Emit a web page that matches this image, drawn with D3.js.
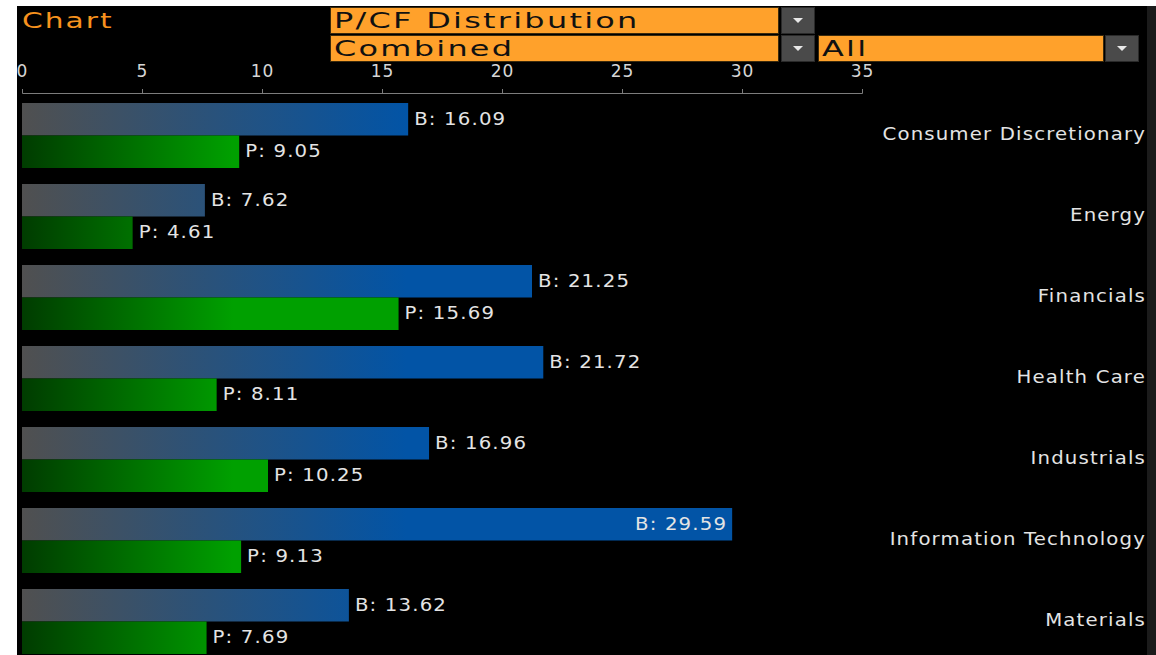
<!DOCTYPE html>
<html>
<head>
<meta charset="utf-8">
<script src="https://cdn.jsdelivr.net/npm/d3@7"></script>
<style>
  body { margin: 0; background: #fff; }
  text { font-family: "DejaVu Sans", Verdana, sans-serif; }
</style>
</head>
<body>
<svg id="chart" width="1156" height="655"></svg>
<script>
// chart values
var categories = ["Consumer Discretionary", "Energy", "Financials", "Health Care",
  "Industrials", "Information Technology", "Materials"];
var bench_values = [16.09, 7.62, 21.25, 21.72, 16.96, 29.59, 13.62];
var port_values = [9.05, 4.61, 15.69, 8.11, 10.25, 9.13, 7.69];
var series_keys = ["B", "P"];
var tick_values = [0, 5, 10, 15, 20, 25, 30, 35];
var menu_labels = ["P/CF Distribution", "Combined", "All"];

var width = 1156, height = 655;
var svg = d3.select("#chart");

var x = d3.scaleLinear().domain([0, 35]).range([22, 862]);
var y = d3.scaleBand().domain(categories).range([103, 654]).paddingInner(0.1975).paddingOuter(0).align(0);
var ys = d3.scaleBand().domain(series_keys).range([0, y.bandwidth()]);

var rows = categories.map(function(c, i) {
  return {cat: c, B: bench_values[i], P: port_values[i]};
});

// the terminal font is wider than DejaVu, so text gets stretched sideways
function place(px, py, sx) {
  return "translate(" + px + "," + py + ") scale(" + sx + ",1)";
}

// gradients run in page space, so short bars stay greyer / darker
var defs = svg.append("defs");
function gradient(id, from, to, c0, c1) {
  var g = defs.append("linearGradient").attr("id", id)
    .attr("gradientUnits", "userSpaceOnUse")
    .attr("x1", x(from)).attr("x2", x(to)).attr("y1", 0).attr("y2", 0);
  g.append("stop").attr("offset", 0).attr("stop-color", c0);
  g.append("stop").attr("offset", 1).attr("stop-color", c1);
}
gradient("grad_B", 0, 16, "#505050", "#0254a6");
gradient("grad_P", 0, 8.8, "#003c00", "#00a000");

defs.append("clipPath").attr("id", "panel_clip")
  .append("rect").attr("x", 17).attr("y", 6).attr("width", 1130).attr("height", 649);

// panel
svg.append("rect").attr("x", 17).attr("y", 6).attr("width", 1130).attr("height", 649).attr("fill", "#000");
svg.append("rect").attr("x", 1147).attr("y", 6).attr("width", 9).attr("height", 649).attr("fill", "#1b1b1b");

var root = svg.append("g").attr("clip-path", "url(#panel_clip)");

// title
root.append("text").attr("transform", place(22, 28, 1.35))
  .attr("fill", "#f7921e").style("font-size", "22px").style("letter-spacing", "1.5px")
  .text("Chart");

// drop-down menus
var menus = [
  {label: menu_labels[0], x: 330, y: 7, w: 448, bx: 781},
  {label: menu_labels[1], x: 330, y: 35, w: 448, bx: 781},
  {label: menu_labels[2], x: 818, y: 35, w: 285, bx: 1105}
];
var menu = root.selectAll(".menu").data(menus).join("g").attr("class", "menu");
menu.append("rect")
  .attr("x", function(d) { return d.x + 0.5; }).attr("y", function(d) { return d.y + 0.5; })
  .attr("width", function(d) { return d.w; }).attr("height", 26)
  .attr("fill", "#ffa12b").attr("stroke", "#3b2a0c");
menu.append("text")
  .attr("transform", function(d) { return place(d.x + 4, d.y + 21, 1.52); })
  .attr("fill", "#111").style("font-size", "21px").style("letter-spacing", "1.5px")
  .text(function(d) { return d.label; });
menu.append("rect")
  .attr("x", function(d) { return d.bx + 0.5; }).attr("y", function(d) { return d.y + 0.5; })
  .attr("width", 33).attr("height", 26)
  .attr("fill", "#4a4a4a").attr("stroke", "#2a2a2a");
menu.append("path")
  .attr("d", function(d) {
    var cx = d.bx + 17, cy = d.y + 13;
    return "M" + (cx - 5) + "," + (cy - 2) + "L" + (cx + 5) + "," + (cy - 2) + "L" + cx + "," + (cy + 3) + "Z";
  })
  .attr("fill", "#e8e8e8");

// axis
var axis = root.append("g").attr("transform", "translate(0,93)")
  .call(d3.axisTop(x).tickValues(tick_values).tickSize(4).tickSizeOuter(4).tickPadding(12));
axis.select(".domain").attr("stroke", "#7c7c7c");
axis.selectAll(".tick line").attr("stroke", "#7c7c7c");
axis.selectAll(".tick text").attr("fill", "#d6d6d6")
  .style("font-size", "17px").style("font-family", "\"DejaVu Sans\", sans-serif")
  .style("letter-spacing", "1px");

// bars
var group = root.selectAll(".cat").data(rows).join("g").attr("class", "cat")
  .attr("transform", function(d) { return "translate(0," + y(d.cat) + ")"; });

function pairs(d) {
  return series_keys.map(function(k) { return {key: k, value: d[k]}; });
}

group.selectAll("rect").data(pairs).join("rect")
  .attr("x", x(0))
  .attr("y", function(d) { return ys(d.key); })
  .attr("width", function(d) { return x(d.value) - x(0); })
  .attr("height", ys.bandwidth())
  .attr("fill", function(d) { return "url(#grad_" + d.key + ")"; });

group.selectAll(".val").data(pairs).join("text").attr("class", "val")
  .attr("transform", function(d) {
    var inside = d.value > 28;
    var px = inside ? x(d.value) - 5 : x(d.value) + 6;
    return place(px, ys(d.key) + ys.bandwidth() / 2 + 5.5, 1.16);
  })
  .attr("text-anchor", function(d) { return d.value > 28 ? "end" : "start"; })
  .attr("fill", "#e4e4e4").style("font-size", "17px").style("letter-spacing", "1px")
  .text(function(d) { return d.key + ": " + d.value.toFixed(2); });

group.append("text")
  .attr("transform", place(1146, y.bandwidth() / 2 + 4.5, 1.16))
  .attr("text-anchor", "end")
  .attr("fill", "#e4e4e4").style("font-size", "17px").style("letter-spacing", "1px")
  .text(function(d) { return d.cat; });
</script>
</body>
</html>
